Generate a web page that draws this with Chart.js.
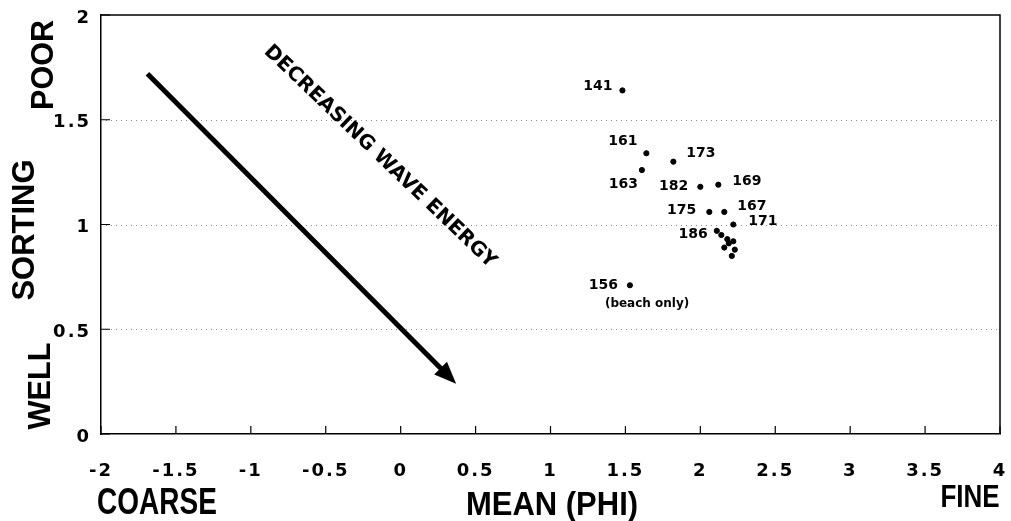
<!DOCTYPE html>
<html>
<head>
<meta charset="utf-8">
<title>Sorting vs mean grain size</title>
<script src="https://cdn.jsdelivr.net/npm/chart.js@4.4.1/dist/chart.umd.min.js"></script>
<style>
  body { margin: 0; background: #fff; }
  #wrap { width: 1011px; height: 521px; position: relative; }
</style>
</head>
<body>
<div id="wrap"><canvas id="chart"></canvas></div>
<script>
// sample numbers (blank = unlabelled point in the 186 group)
const sampleIds = ['141', '161', '173', '163', '182', '169', '175', '167', '171',
                   '186', '', '', '', '', '', '', '', '156'];
// mean grain size (phi)
const meanPhi = [1.48, 1.64, 1.82, 1.61, 2.00, 2.12, 2.06, 2.16, 2.22,
                 2.11, 2.14, 2.18, 2.22, 2.23, 2.16, 2.21, 2.19, 1.53];
// sorting
const sorting = [1.64, 1.34, 1.30, 1.26, 1.18, 1.19, 1.06, 1.06, 1.00,
                 0.97, 0.95, 0.93, 0.92, 0.88, 0.89, 0.85, 0.91, 0.71];

const xTickValues = [-2, -1.5, -1, -0.5, 0, 0.5, 1, 1.5, 2, 2.5, 3, 3.5, 4];
const yTickValues = [0, 0.5, 1, 1.5, 2];

// arrow "decreasing wave energy", start and end in axis units
const arrowPath = [{ x: -1.69, y: 1.72 }, { x: 0.37, y: 0.24 }];
const arrowText = 'DECREASING WAVE ENERGY';
const arrowTextAt = { x: -0.13, y: 1.33 };

// where each sample label sits next to its point
const labelPlacement = {
  '141': { dx: -10, dy: -4, align: 'right' },
  '161': { dx: -9, dy: -12, align: 'right' },
  '173': { dx: 13, dy: -8, align: 'left' },
  '163': { dx: -4, dy: 14, align: 'right' },
  '182': { dx: -12, dy: 0, align: 'right' },
  '169': { dx: 14, dy: -3, align: 'left' },
  '175': { dx: -13, dy: -2, align: 'right' },
  '167': { dx: 13, dy: -6, align: 'left' },
  '171': { dx: 15, dy: -3, align: 'left' },
  '186': { dx: -9, dy: 4, align: 'right' },
  '156': { dx: -12, dy: 0, align: 'right' }
};
const noteFor156 = '(beach only)';

const tickFont = '"DejaVu Sans", sans-serif';
const titleFont = '"Liberation Sans", Arial, sans-serif';

function drawStretched(ctx, text, cx, cy, size, sx, sy, rot) {
  // cx, cy is the middle of the capital letters
  ctx.save();
  ctx.translate(cx, cy);
  ctx.rotate(rot);
  ctx.scale(sx, sy);
  ctx.font = 'bold ' + size + 'px ' + titleFont;
  ctx.textAlign = 'center';
  ctx.textBaseline = 'alphabetic';
  ctx.fillStyle = '#000';
  ctx.fillText(text, 0, size * 0.358);
  ctx.restore();
}

const decorPlugin = {
  id: 'decor',
  beforeDraw(chart) {
    chart.ctx.letterSpacing = '2px';
  },
  beforeDatasetsDraw(chart) {
    const ctx = chart.ctx;
    const xs = chart.scales.x, ys = chart.scales.y;
    const a = chart.chartArea;
    ctx.save();
    ctx.letterSpacing = '0px';

    // dotted grid lines
    ctx.strokeStyle = '#8a8a8a';
    ctx.lineWidth = 1;
    ctx.setLineDash([1, 4]);
    ctx.beginPath();
    ys.ticks.forEach(t => {
      if (t.value <= 0 || t.value >= 2) return;
      const py = Math.round(ys.getPixelForValue(t.value)) + 0.5;
      ctx.moveTo(a.left, py);
      ctx.lineTo(a.right, py);
    });
    ctx.stroke();
    ctx.setLineDash([]);

    ctx.strokeStyle = '#000';
    ctx.lineWidth = 1.5;
    // top and right edge of the box
    ctx.beginPath();
    ctx.moveTo(a.left, a.top);
    ctx.lineTo(a.right, a.top);
    ctx.lineTo(a.right, a.bottom);
    ctx.stroke();
    // inward tick marks
    ctx.lineWidth = 1.2;
    ctx.beginPath();
    xs.ticks.forEach(t => {
      const px = xs.getPixelForValue(t.value);
      ctx.moveTo(px, a.bottom);
      ctx.lineTo(px, a.bottom - 8);
    });
    ys.ticks.forEach(t => {
      const py = ys.getPixelForValue(t.value);
      ctx.moveTo(a.left, py);
      ctx.lineTo(a.left + 9, py);
    });
    ctx.stroke();

    // arrow
    const x0 = xs.getPixelForValue(arrowPath[0].x), y0 = ys.getPixelForValue(arrowPath[0].y);
    const x1 = xs.getPixelForValue(arrowPath[1].x), y1 = ys.getPixelForValue(arrowPath[1].y);
    const ang = Math.atan2(y1 - y0, x1 - x0);
    const headLen = 22, headHalf = 9;
    const bx = x1 - headLen * Math.cos(ang), by = y1 - headLen * Math.sin(ang);
    ctx.lineWidth = 5;
    ctx.lineCap = 'butt';
    ctx.beginPath();
    ctx.moveTo(x0, y0);
    ctx.lineTo(bx + 4 * Math.cos(ang), by + 4 * Math.sin(ang));
    ctx.stroke();
    ctx.fillStyle = '#000';
    ctx.beginPath();
    ctx.moveTo(x1, y1);
    ctx.lineTo(bx + headHalf * Math.sin(ang), by - headHalf * Math.cos(ang));
    ctx.lineTo(bx - headHalf * Math.sin(ang), by + headHalf * Math.cos(ang));
    ctx.closePath();
    ctx.fill();

    // arrow caption
    ctx.save();
    ctx.translate(xs.getPixelForValue(arrowTextAt.x), ys.getPixelForValue(arrowTextAt.y));
    ctx.rotate(43.7 * Math.PI / 180);
    ctx.font = 'bold 20px ' + tickFont;
    ctx.textAlign = 'center';
    ctx.textBaseline = 'alphabetic';
    ctx.fillText(arrowText, 0, 7);
    ctx.restore();
    ctx.restore();
  },
  afterDraw(chart) {
    const ctx = chart.ctx;
    const xs = chart.scales.x, ys = chart.scales.y;
    ctx.save();
    ctx.letterSpacing = '0px';
    // sample labels
    ctx.font = 'bold 14px ' + tickFont;
    ctx.fillStyle = '#000';
    ctx.textBaseline = 'middle';
    sampleIds.forEach((id, i) => {
      if (!id) return;
      const p = labelPlacement[id];
      const px = xs.getPixelForValue(meanPhi[i]), py = ys.getPixelForValue(sorting[i]);
      ctx.textAlign = p.align;
      ctx.fillText(id, px + p.dx, py + p.dy);
      if (id === '156') {
        ctx.font = 'bold 12px ' + tickFont;
        ctx.textAlign = 'left';
        ctx.fillText(noteFor156, px - 25, py + 19);
        ctx.font = 'bold 14px ' + tickFont;
      }
    });
    // axis words
    drawStretched(ctx, 'COARSE', 157, 501, 28, 1, 1.3, 0);
    drawStretched(ctx, 'MEAN (PHI)', 552, 503, 31, 1, 1.05, 0);
    drawStretched(ctx, 'FINE', 970, 496, 26, 1, 1.18, 0);
    drawStretched(ctx, 'POOR', 42.5, 65, 30.5, 1, 1, -Math.PI / 2);
    drawStretched(ctx, 'SORTING', 22.5, 230, 31, 1, 1, -Math.PI / 2);
    drawStretched(ctx, 'WELL', 39, 386, 30.7, 1, 1, -Math.PI / 2);
    ctx.restore();
    ctx.letterSpacing = '0px';
  }
};

new Chart(document.getElementById('chart'), {
  type: 'scatter',
  data: {
    datasets: [{
      data: meanPhi.map((x, i) => ({ x: x, y: sorting[i] })),
      backgroundColor: '#000',
      borderColor: '#000',
      pointRadius: 2.6,
      pointHoverRadius: 2.6
    }]
  },
  options: {
    responsive: true,
    maintainAspectRatio: false,
    animation: false,
    layout: { padding: { top: 15, right: 11, left: 0, bottom: 0 } },
    plugins: {
      legend: { display: false },
      tooltip: { enabled: false }
    },
    scales: {
      x: {
        type: 'linear',
        min: -2,
        max: 4,
        afterBuildTicks: s => { s.ticks = xTickValues.map(v => ({ value: v })); },
        afterFit: s => { s.height = 87; s.paddingLeft = 0; s.paddingRight = 0; },
        grid: { display: false, drawTicks: false },
        border: { display: true, color: '#000', width: 1.5 },
        ticks: {
          color: '#000',
          padding: 27,
          maxRotation: 0,
          autoSkip: false,
          callback: v => String(v),
          font: { family: tickFont, size: 18, weight: 'bold' }
        }
      },
      y: {
        type: 'linear',
        min: 0,
        max: 2,
        afterBuildTicks: s => { s.ticks = yTickValues.map(v => ({ value: v })); },
        afterFit: s => { s.width = 101; s.paddingTop = 0; s.paddingBottom = 0; },
        grid: { display: false, drawTicks: false },
        border: { display: true, color: '#000', width: 1.5 },
        ticks: {
          color: '#000',
          padding: 10,
          labelOffset: 3,
          autoSkip: false,
          callback: v => String(v),
          font: { family: tickFont, size: 18, weight: 'bold' }
        }
      }
    }
  },
  plugins: [decorPlugin]
});
</script>
</body>
</html>
